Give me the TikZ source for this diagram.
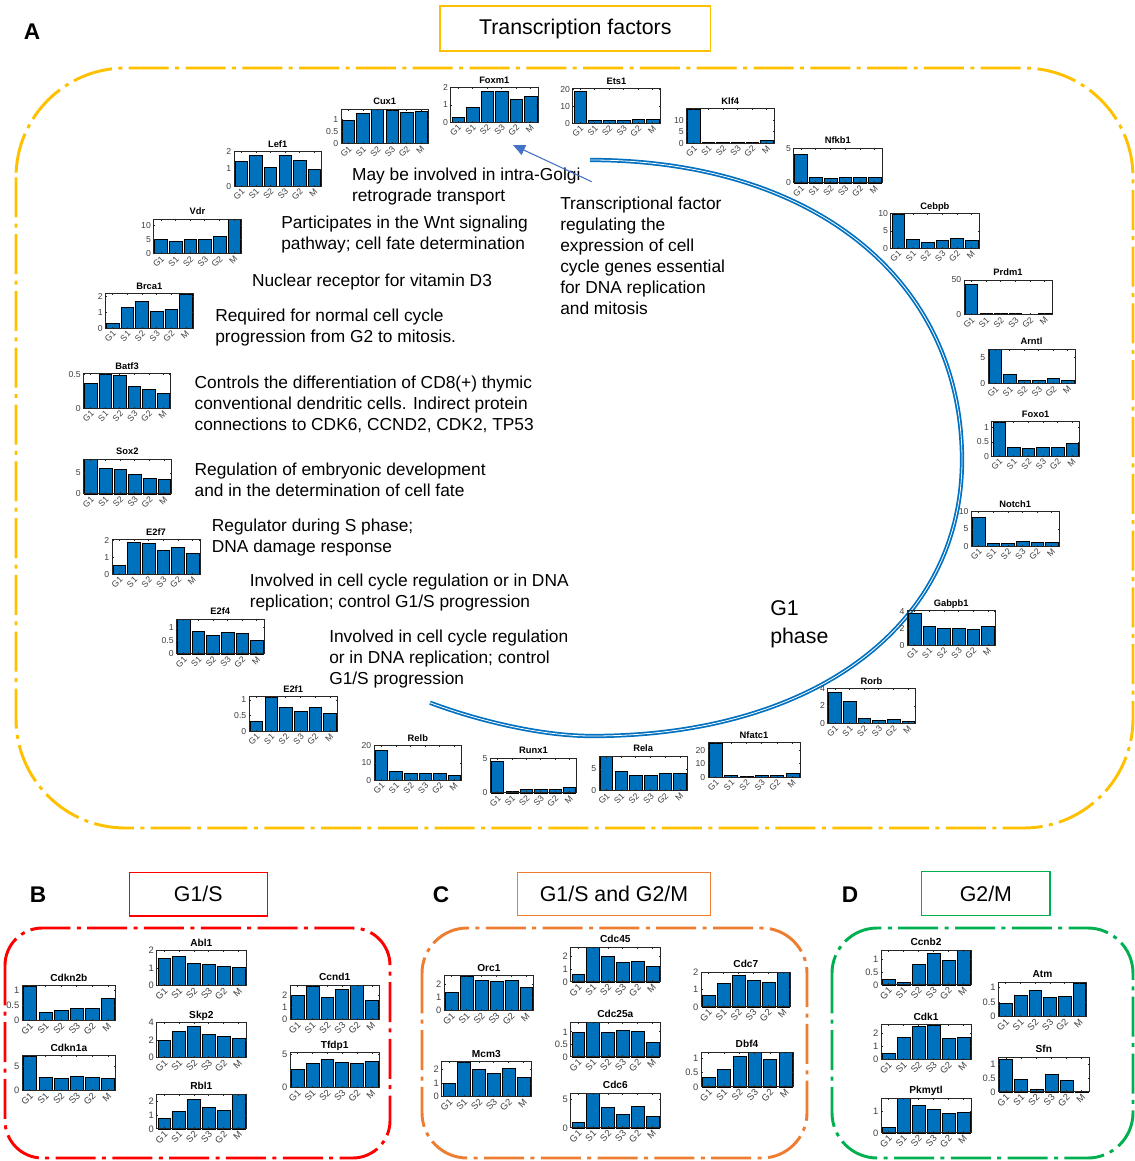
\documentclass[tikz,border=0pt]{standalone}
\usepackage{fontspec}
\setmainfont{Liberation Sans}
\usetikzlibrary{arrows.meta}
\definecolor{barblue}{RGB}{0,114,189}
\definecolor{tfyellow}{RGB}{255,192,0}
\definecolor{arcblue}{RGB}{0,112,192}
\definecolor{arrblue}{RGB}{68,114,196}
\definecolor{gsred}{RGB}{255,0,0}
\definecolor{gorange}{RGB}{237,125,49}
\definecolor{ggreen}{RGB}{0,176,80}
\definecolor{axgray}{RGB}{38,38,38}
\definecolor{labgray}{RGB}{64,64,64}
\def\labsize{6.5}
\def\ttsize{7}
\tikzset{
 barfill/.style={fill=barblue, draw=black, line width=0.3pt},
 axbox/.style={draw=axgray, line width=0.5pt},
 ylab/.style={anchor=east, inner sep=0pt, text=labgray, font=\fontsize{\labsize}{\labsize}\selectfont},
 xlab/.style={rotate=45, anchor=east, inner sep=0pt, text=labgray, font=\fontsize{\labsize}{\labsize}\selectfont},
 ctitle/.style={anchor=base, inner sep=0pt, font=\bfseries\fontsize{\ttsize}{\ttsize}\selectfont},
 notetext/.style={anchor=north west, inner sep=0pt, align=left, font=\fontsize{13}{15.75}\selectfont},
 tbox/.style={draw=#1, line width=1pt, inner sep=0pt, font=\fontsize{16}{16}\selectfont},
 ddbox/.style={draw=#1, line width=2.2pt, dash pattern=on 30pt off 4.8pt on 3pt off 4.8pt},
 panelletter/.style={inner sep=0pt, font=\bfseries\fontsize{17}{17}\selectfont},
 arcline/.style={draw=arcblue, line width=1.3pt, double=white, double distance=0.6pt},
 tfarrow/.style={draw=arrblue, line width=0.8pt, -{Triangle[length=9pt,width=8pt]}}
}
% #1 x0, #2 y0 (top), #3 width, #4 title, #5 ymax, #6 ticks, #7 values
\newcommand\barchart[7]{%
 \pgfmathsetmacro\chX{#1}%
 \pgfmathsetmacro\chY{#2}%
 \pgfmathsetmacro\chW{#3}%
 \pgfmathsetmacro\chM{#5}%
 \pgfmathsetmacro\chB{#2+34.5}%
 \pgfmathsetmacro\chS{#3/6}%
 \foreach \val [count=\i] in {#7}{%
   \pgfmathsetmacro\bx{\chX+(\i-1)*\chS+0.07*\chS}%
   \pgfmathsetmacro\bt{\chB-\val/\chM*34.5}%
   \filldraw[barfill] (\bx,\chB) rectangle (\bx+0.86*\chS,\bt);%
 }%
 \draw[axbox] (\chX,\chY) rectangle (\chX+\chW,\chB);%
 \foreach \lab [count=\i] in {G1,S1,S2,S3,G2,M}{%
   \pgfmathsetmacro\tx{\chX+(\i-0.5)*\chS}%
   \draw[axbox] (\tx,\chB) -- (\tx,\chB-1.5) (\tx,\chY) -- (\tx,\chY+1.5);%
   \node[xlab] (#4-x\i) at (\tx+2,\chB+4) {\lab};%
 }%
 \foreach \tk [count=\j] in {#6}{%
   \pgfmathsetmacro\ty{\chB-\tk/\chM*34.5}%
   \draw[axbox] (\chX,\ty) -- (\chX+1.5,\ty) (\chX+\chW,\ty) -- (\chX+\chW-1.5,\ty);%
   \node[ylab] (#4-y\j) at (\chX-2.5,\ty) {\tk};%
 }%
 \node[ctitle] (#4) at (\chX+\chW/2,\chY-4.7) {#4};%
}
\begin{document}
\begin{tikzpicture}[x=0.75pt,y=-0.75pt]
\useasboundingbox (0,0) rectangle (1135,1161);

% ---------- Panel A ----------
\node[panelletter] (pA) at (32,32) {A};
\node[tbox=tfyellow, minimum width=203pt, minimum height=33.75pt] (tf) at (575.3,28.5) {Transcription factors};
\draw[ddbox=tfyellow, rounded corners=82pt] (16,68) rectangle (1133,828);

% G1 phase arc
\coordinate (arcA) at (590,160);
\coordinate (arcR) at (962,460);
\coordinate (arcB) at (592,736);
\coordinate (arcE) at (430,702.7);
\draw[arcline] (arcA) .. controls (814,160) and (962,280) .. (arcR)
  .. controls (962,625.6) and (814,736) .. (arcB)
  .. controls (540,736) and (476,720) .. (arcE);
\node[anchor=north west, inner sep=0pt, align=left, font=\fontsize{16}{21}\selectfont] (g1ph) at (770,600) {G1\\phase};

\barchart{450.7}{87.7}{87.2}{Foxm1}{2}{0,1,2}{0.27,0.85,1.8,1.78,1.36,1.51}
\barchart{341}{109}{87.4}{Cux1}{1.44}{0,0.5,1}{0.97,1.26,1.44,1.4,1.3,1.36}
\barchart{234}{151.7}{87.4}{Lef1}{2}{0,1,2}{1.46,1.8,1.1,1.77,1.48,0.97}
\barchart{153.6}{219}{87.8}{Vdr}{12.4}{0,5,10}{5,4.4,5.3,5.1,6.1,12.4}
\barchart{105.4}{293.7}{87.8}{Brca1}{2.17}{0,1,2}{0.3,1.3,1.7,1.1,1.2,2.17}
\barchart{83.4}{373.7}{87.3}{Batf3}{0.515}{0,0.5}{0.38,0.515,0.5,0.33,0.28,0.22}
\barchart{83.4}{459.3}{88}{Sox2}{8.25}{0,5}{8.25,6.1,6,4.7,3.8,3.4}
\barchart{112}{539.7}{88}{E2f7}{2.05}{0,1,2}{0.55,1.9,1.85,1.45,1.6,1.25}
\barchart{176.4}{619.3}{87.6}{E2f4}{1.3}{0,0.5,1}{1.3,0.85,0.72,0.8,0.77,0.5}
\barchart{249}{696.7}{88.3}{E2f1}{1.1}{0,0.5,1}{0.33,1.1,0.77,0.63,0.78,0.58}
\barchart{374}{745.7}{87.7}{Relb}{20}{0,10,20}{17.2,5.1,3.8,3.8,3.8,3.1}
\barchart{490.3}{758.3}{86.4}{Runx1}{5}{0,5}{4.6,0.3,0.55,0.55,0.5,0.75}
\barchart{599}{756}{88.3}{Rela}{8}{0,5}{7.85,4.4,3.5,3.6,3.9,3.9}
\barchart{708}{742.7}{92}{Nfatc1}{25.5}{0,10,20}{25.5,1.5,0.8,1.5,1.5,3}
\barchart{827.6}{688.7}{87.8}{Rorb}{4}{0,2,4}{3.6,2.5,0.6,0.4,0.5,0.25}
\barchart{907.2}{610.7}{88}{Gabpb1}{4.1}{0,2,4}{3.85,2.3,2.05,2.0,1.95,2.2}
\barchart{971.3}{511.7}{87.7}{Notch1}{10}{0,5,10}{8.4,1,0.8,1.5,1.3,1.1}
\barchart{991.8}{421.7}{87.7}{Foxo1}{1.21}{0,0.5,1}{1.21,0.33,0.29,0.31,0.3,0.45}
\barchart{988}{349}{87}{Arntl}{6.56}{0,5}{6.56,1.75,0.7,0.65,1.0,0.65}
\barchart{964}{280}{88}{Prdm1}{50}{0,50}{43.7,2,1.5,1.5,1,2}
\barchart{890.8}{213.7}{88.2}{Cebpb}{10}{0,5,10}{10,2.6,1.6,2.2,2.8,2.2}
\barchart{793.6}{148.3}{88.4}{Nfkb1}{5}{0,5}{4.14,0.85,0.6,0.75,0.85,0.8}
\barchart{686.5}{108.7}{87.5}{Klf4}{14.9}{0,5,10}{14.9,0.6,0.3,0.6,0.6,1.5}
\barchart{572.8}{88.7}{87.2}{Ets1}{20.5}{0,10,20}{19.2,2,1.5,2,2.2,2.2}

\node[notetext] (t1) at (351.8,167.5) {May be involved in intra-Golgi\\retrograde transport};
\node[notetext] (t2) at (281,215.2) {Participates in the Wnt signaling\\pathway; cell fate determination};
\node[notetext] (t3) at (251.8,273.5) {Nuclear receptor for vitamin D3};
\node[notetext] (t4) at (215,308.5) {Required for normal cell cycle\\progression from G2 to mitosis.};
\node[notetext] (t5) at (194.4,375.8) {Controls the differentiation of CD8(+) thymic\\conventional dendritic cells. Indirect protein\\connections to CDK6, CCND2, CDK2, TP53};
\node[notetext] (t6) at (194.4,462.5) {Regulation of embryonic development\\and in the determination of cell fate};
\node[notetext] (t7) at (211.6,518.5) {Regulator during S phase;\\DNA damage response};
\node[notetext] (t8) at (249.5,573.5) {Involved in cell cycle regulation or in DNA\\replication; control G1/S progression};
\node[notetext] (t9) at (329,629.5) {Involved in cell cycle regulation\\or in DNA replication; control\\G1/S progression};
\node[notetext] (t10) at (560,196.2) {Transcriptional factor\\regulating the\\expression of cell\\cycle genes essential\\for DNA replication\\and mitosis};

\coordinate (arrS) at (591.7,181.7);
\coordinate (arrE) at (513,145);
\draw[tfarrow] (arrS) -- (arrE);

% ---------- Panels B, C, D ----------
\def\labsize{7}
\def\ttsize{7.6}
\node[panelletter] (pB) at (38,895) {B};
\node[panelletter] (pC) at (441,895) {C};
\node[panelletter] (pD) at (850,895) {D};
\node[tbox=gsred, minimum width=103.5pt, minimum height=32.8pt] (g1s) at (198.3,894.2) {G1/S};
\node[tbox=gorange, minimum width=145pt, minimum height=32.5pt] (g1sg2m) at (614,894) {G1/S and G2/M};
\node[tbox=ggreen, minimum width=96.2pt, minimum height=32.7pt] (g2m) at (985.9,893.5) {G2/M};
\draw[ddbox=gsred, rounded corners=28pt] (5,928) rectangle (390,1158);
\draw[ddbox=gorange, rounded corners=34pt] (422,928) rectangle (807,1158);
\draw[ddbox=ggreen, rounded corners=34pt] (832,928) rectangle (1133,1158);

\barchart{22}{985.7}{93.7}{Cdkn2b}{1.16}{0,0.5,1}{1.16,0.27,0.32,0.42,0.42,0.75}
\barchart{22}{1055.7}{93.7}{Cdkn1a}{7.36}{0,5}{7.36,2.7,2.6,2.9,2.8,2.5}
\barchart{156.7}{950.7}{89.3}{Abl1}{2}{0,1,2}{1.55,1.7,1.25,1.2,1.13,1.03}
\barchart{156.7}{1022.7}{89.3}{Skp2}{4}{0,2,4}{2,3,3.65,2.7,2.4,2.2}
\barchart{156.7}{1094.3}{89.3}{Rbl1}{2.48}{0,1,2}{0.78,1.3,2.15,1.55,1.35,2.48}
\barchart{290}{985}{89.3}{Ccnd1}{2.81}{0,1,2}{1.95,2.7,1.8,2.45,2.81,1.6}
\barchart{290}{1052.7}{89.3}{Tfdp1}{5.25}{0,5}{2.8,3.7,4.3,3.8,3.7,3.9}

\barchart{444}{975.7}{89.7}{Orc1}{2.68}{0,1,2}{1.4,2.68,2.3,2.25,2.35,1.8}
\barchart{441.7}{1061.7}{89.3}{Mcm3}{2.6}{0,1,2}{1,2.6,2,1.7,2.1,1.4}
\barchart{570.7}{947.3}{89.3}{Cdc45}{2.66}{0,1,2}{0.55,2.66,2,1.55,1.6,1.22}
\barchart{570.7}{1022.3}{89.3}{Cdc25a}{1.38}{0,0.5,1}{0.98,1.38,1,1.05,1.02,0.58}
\barchart{570.7}{1093.3}{89.3}{Cdc6}{6}{0,5}{1,6,3.6,2.4,3.8,2.1}
\barchart{701}{972.3}{89.7}{Cdc7}{2}{0,1,2}{0.65,1.35,1.85,1.55,1.4,2}
\barchart{701}{1052.3}{92}{Dbf4}{1.22}{0,0.5,1}{0.35,0.63,1.1,1.22,0.97,1.22}

\barchart{881}{950.3}{90}{Ccnb2}{1.33}{0,0.5,1}{0.23,0.12,0.8,1.22,0.95,1.33}
\barchart{881}{1024.7}{90}{Cdk1}{2.68}{0,1,2}{0.45,1.7,2.6,2.68,1.65,1.7}
\barchart{881}{1098.3}{90}{Pkmytl}{1.59}{0,1}{0.25,1.59,1.28,1.1,0.92,0.93}
\barchart{998.3}{982}{88.4}{Atm}{1.2}{0,0.5,1}{0.45,0.73,0.93,0.66,0.7,1.15}
\barchart{998.3}{1057.3}{91}{Sfn}{1.24}{0,0.5,1}{1.18,0.45,0.1,0.65,0.42,0.01}
\end{tikzpicture}
\end{document}
